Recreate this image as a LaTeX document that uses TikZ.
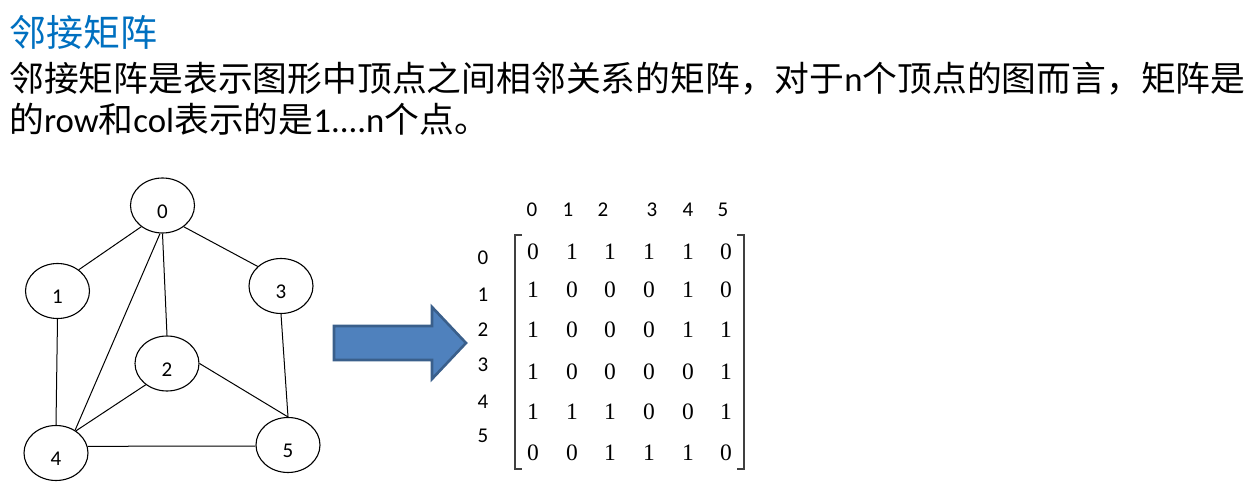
\documentclass[tikz,border=0pt]{standalone}
\usepackage{fontspec}
\usetikzlibrary{shapes.geometric}
\setmainfont{Liberation Serif}
\newfontfamily\cjkfont{Noto Sans CJK SC}
\newfontfamily\calfont{Carlito}
\newfontfamily\tmsfont{Liberation Serif}
\definecolor{titleblue}{HTML}{0070C0}
\definecolor{arrowfill}{HTML}{4F81BD}
\definecolor{arrowline}{HTML}{3A5F8B}
\begin{document}
\begin{tikzpicture}[x=1pt,y=-1pt,
  vtx/.style={draw,ellipse,line width=1.1pt,minimum width=64pt,minimum height=55pt,inner sep=0pt},
  vlab/.style={font=\calfont\fontsize{21}{21}\selectfont,inner sep=0pt,yshift=-6pt},
  edge/.style={line width=1pt},
  hdr/.style={font=\calfont\fontsize{21}{21}\selectfont,inner sep=0pt},
  ent/.style={font=\tmsfont\fontsize{23.5}{23.5}\selectfont,inner sep=0pt},
  brk/.style={line width=1.3pt,draw=black!75},
  txt/.style={inner sep=0pt,anchor=base west}]
\useasboundingbox (0,0) rectangle (1249,502);
% text
\node[txt,text=titleblue,font=\cjkfont\fontsize{37}{37}\selectfont] (title) at (9,47) {邻接矩阵};
\node[txt,font=\cjkfont\fontsize{34.8}{36}\selectfont] (line1) at (9,92) {邻接矩阵是表示图形中顶点之间相邻关系的矩阵，对于{\calfont n}个顶点的图而言，矩阵是};
\node[txt,font=\cjkfont\fontsize{34.8}{36}\selectfont] (line2) at (9,133) {的{\calfont row}和{\calfont col}表示的是{\calfont 1....n}个点。};
% graph
\node[vtx] (n0) at (162.5,205.5) {};
\node[vtx] (n1) at (57.5,291) {};
\node[vtx] (n3) at (281,286) {};
\node[vtx] (n2) at (167,363.5) {};
\node[vtx] (n4) at (56,453) {};
\node[vtx] (n5) at (288,445) {};
\foreach \n in {0,...,5}{\node[vlab] (l\n) at (n\n) {\n};}
\draw[edge] (n0.225) -- (n1.45);
\draw[edge] (n0.315) -- (n3.140);
\draw[edge] (n0.south) -- (n2.north);
\draw[edge] (n0.265) -- (n4.50);
\draw[edge] (n1.south) -- (n4.north);
\draw[edge] (n2.225) -- (n4.48);
\draw[edge] (n2.east) -- (n5.north);
\draw[edge] (n3.south) -- (n5.north);
\draw[edge] (n4.12) -- (n5.182);
% arrow
\draw[fill=arrowfill,draw=arrowline,line width=2.6pt,line join=miter]
  (334,326) -- (432,326) -- (432,307) -- (466,343) -- (432,379) -- (432,360) -- (334,360) -- cycle;
% column and row headers
\foreach \c/\x in {0/532,1/568,2/603,3/652,4/688,5/723}{\node[hdr] (c\c) at (\x,210) {\c};}
\foreach \r/\y in {0/258,1/295,2/330,3/365,4/402,5/436}{\node[hdr] (r\r) at (483,\y) {\r};}
% matrix entries
\foreach \y/\r/\a/\b/\c/\d/\e/\f in {252/0/0/1/1/1/1/0,290/1/1/0/0/0/1/0,330/2/1/0/0/0/1/1,372/3/1/0/0/0/0/1,412/4/1/1/1/0/0/1,453/5/0/0/1/1/1/0}{
  \node[ent] (m\r-0) at (533,\y) {\a};
  \node[ent] (m\r-1) at (572,\y) {\b};
  \node[ent] (m\r-2) at (610,\y) {\c};
  \node[ent] (m\r-3) at (649,\y) {\d};
  \node[ent] (m\r-4) at (688,\y) {\e};
  \node[ent] (m\r-5) at (726,\y) {\f};
}
% brackets
\draw[brk] (522,235) -- (515,235) -- (515,469) -- (522,469);
\draw[brk] (737,235) -- (744,235) -- (744,469) -- (737,469);
\end{tikzpicture}
\end{document}
